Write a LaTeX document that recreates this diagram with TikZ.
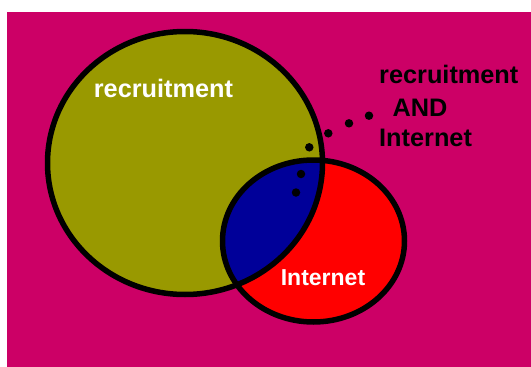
\documentclass[tikz,border=0pt]{standalone}
\usepackage{fontspec}
\setmainfont{Liberation Sans}
\definecolor{bgmag}{RGB}{204,0,102}
\definecolor{olivec}{RGB}{153,153,0}
\definecolor{bluec}{RGB}{0,0,153}
\definecolor{redc}{RGB}{255,0,0}
\begin{document}
\begin{tikzpicture}[x=1pt,y=-1pt,
  outline/.style={draw=black,line width=5.5pt},
  blackdot/.style={circle,fill=black,inner sep=0pt,minimum size=8.5pt},
  lbl/.style={font=\bfseries\fontsize{25.3}{30}\selectfont,inner sep=0pt},
  lblsmall/.style={font=\bfseries\fontsize{23}{28}\selectfont,inner sep=0pt}]
\useasboundingbox (0,0) rectangle (531,367);
\fill[white] (0,0) rectangle (531,367);
\fill[bgmag] (7,12) rectangle (531,367);
% fills
\fill[olivec] (185,163) ellipse [x radius=137.5, y radius=131.5];
\fill[redc] (313.5,241) ellipse [x radius=91, y radius=81];
\begin{scope}
  \clip (185,163) ellipse [x radius=137.5, y radius=131.5];
  \fill[bluec] (313.5,241) ellipse [x radius=91, y radius=81];
\end{scope}
% outlines
\draw[outline] (185,163) ellipse [x radius=137.5, y radius=131.5];
\draw[outline] (313.5,241) ellipse [x radius=91, y radius=81];
% dots
\node[blackdot] (d1) at (369,115.7) {};
\node[blackdot] (d2) at (349,123.3) {};
\node[blackdot] (d3) at (328.3,133.3) {};
\node[blackdot] (d4) at (309.3,147.3) {};
\node[blackdot] (d5) at (301,174) {};
\node[blackdot] (d6) at (296,192.5) {};
% labels
\node[lbl,text=white,anchor=base] (rec) at (163.5,97) {recruitment};
\node[lblsmall,text=white,anchor=base] (int) at (323,285) {Internet};
\node[lbl,text=black,anchor=base west] (and1) at (379,83.3) {recruitment};
\node[lbl,text=black,anchor=base west] (and2) at (392.5,116) {AND};
\node[lbl,text=black,anchor=base west] (and3) at (379,146.7) {Internet};
\end{tikzpicture}
\end{document}
